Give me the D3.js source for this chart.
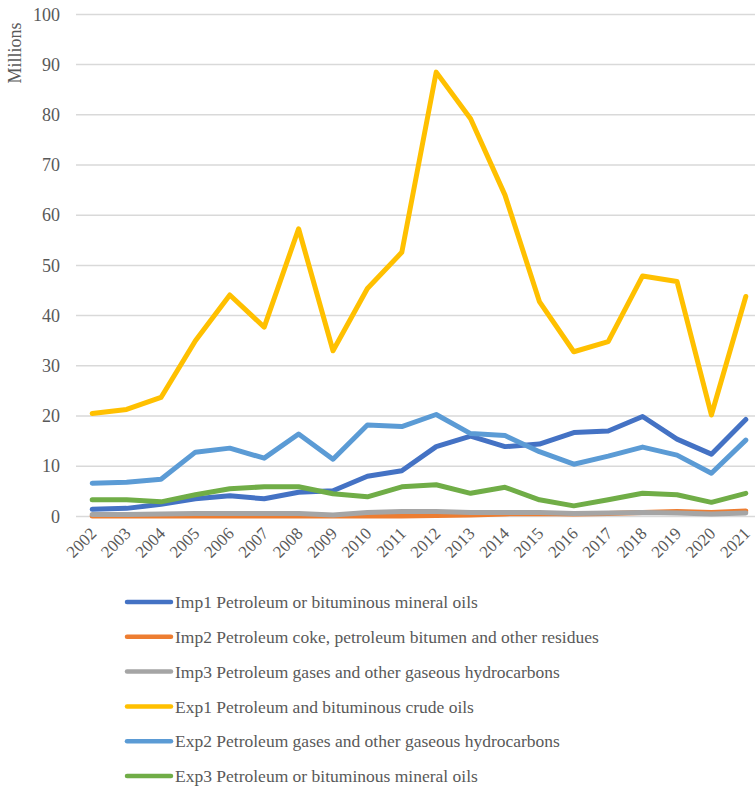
<!DOCTYPE html>
<html>
<head>
<meta charset="utf-8">
<script src="https://cdn.jsdelivr.net/npm/d3@7"></script>
<style>
  html, body { margin: 0; padding: 0; background: #ffffff; }
  svg { display: block; }
  text { font-family: "Liberation Serif", "Times New Roman", serif; fill: #595959; }
</style>
</head>
<body>
<svg id="chart" width="755" height="787"></svg>
<script>
// Years on the category axis
const years = ["2002","2003","2004","2005","2006","2007","2008","2009","2010","2011",
               "2012","2013","2014","2015","2016","2017","2018","2019","2020","2021"];

// Values in millions
const imp1 = [1.4,1.6,2.4,3.5,4.1,3.5,4.8,5.1,8.0,9.1,13.9,16.0,13.9,14.4,16.7,17.0,19.9,15.4,12.4,19.3];
const imp2 = [0.1,0.1,0.1,0.1,0.1,0.1,0.1,0.1,0.1,0.1,0.2,0.3,0.5,0.6,0.5,0.6,0.8,1.0,0.8,1.1];
const imp3 = [0.4,0.4,0.5,0.6,0.6,0.6,0.6,0.3,0.8,1.0,1.0,0.8,0.8,0.8,0.6,0.7,0.8,0.7,0.5,0.7];
const exp1 = [20.5,21.3,23.7,35.0,44.1,37.7,57.3,33.0,45.4,52.6,88.5,79.2,64.0,42.8,32.8,34.8,47.9,46.8,20.2,43.8];
const exp2 = [6.6,6.8,7.4,12.8,13.6,11.6,16.4,11.4,18.2,17.9,20.3,16.5,16.1,12.9,10.4,12.0,13.8,12.2,8.6,15.2];
const exp3 = [3.3,3.3,2.9,4.3,5.5,5.9,5.9,4.5,3.9,5.9,6.3,4.6,5.8,3.3,2.1,3.3,4.6,4.3,2.8,4.6];

const seriesNames = [
  "Imp1 Petroleum or bituminous mineral oils",
  "Imp2 Petroleum coke, petroleum bitumen and other residues",
  "Imp3 Petroleum gases and other gaseous hydrocarbons",
  "Exp1 Petroleum and bituminous crude oils",
  "Exp2 Petroleum gases and other gaseous hydrocarbons",
  "Exp3 Petroleum or bituminous mineral oils"
];
const seriesColors = ["#4472C4","#ED7D31","#A5A5A5","#FFC000","#5B9BD5","#70AD47"];
const yTicks = [0,10,20,30,40,50,60,70,80,90,100];
const yLabel = "Millions";

const series = [imp1, imp2, imp3, exp1, exp2, exp3].map((vals, i) => ({
  name: seriesNames[i],
  color: seriesColors[i],
  values: vals.map((v, j) => ({ year: years[j], value: v }))
}));

const svg = d3.select("#chart");

const x = d3.scaleBand().domain(years).range([75, 763]).padding(0);
const y = d3.scaleLinear().domain([0, 100]).range([516.4, 14.4]);
const cx = d => x(d) + x.bandwidth() / 2;

// Horizontal gridlines
svg.append("g")
  .selectAll("line")
  .data(yTicks)
  .join("line")
  .attr("x1", 76)
  .attr("x2", 763)
  .attr("y1", d => y(d))
  .attr("y2", d => y(d))
  .attr("stroke", "#d9d9d9")
  .attr("stroke-width", 1.5);

// Y axis labels
const yAxis = d3.axisLeft(y).tickValues(yTicks).tickSize(0).tickPadding(0);
const gy = svg.append("g").attr("transform", "translate(60,0)").call(yAxis);
gy.select(".domain").remove();
gy.selectAll("text")
  .style("font-size", "18px")
  .attr("dy", "0.32em");

// Axis title
svg.append("text")
  .attr("transform", "translate(21,53) rotate(-90)")
  .attr("text-anchor", "middle")
  .style("font-size", "18px")
  .text(yLabel);

// X axis labels, rotated
const xAxis = d3.axisBottom(x).tickSize(0).tickPadding(0);
const gx = svg.append("g").attr("transform", "translate(0,516.4)").call(xAxis);
gx.select(".domain").remove();
gx.selectAll("text")
  .style("font-size", "17px")
  .attr("text-anchor", "end")
  .attr("transform", "translate(1,14) rotate(-45)")
  .attr("dy", "0.35em")
  .attr("y", 0);

// Series lines
const line = d3.line()
  .x(d => cx(d.year))
  .y(d => y(d.value));

svg.append("g")
  .selectAll("path")
  .data(series)
  .join("path")
  .attr("d", d => line(d.values))
  .attr("fill", "none")
  .attr("stroke", d => d.color)
  .attr("stroke-width", 5)
  .attr("stroke-linejoin", "round")
  .attr("stroke-linecap", "round");

// Legend
const legend = svg.append("g")
  .selectAll("g")
  .data(series)
  .join("g")
  .attr("transform", (d, i) => `translate(0,${602 + i * 34.8})`);

legend.append("line")
  .attr("x1", 127).attr("x2", 171)
  .attr("y1", 0).attr("y2", 0)
  .attr("stroke", d => d.color)
  .attr("stroke-width", 4.5)
  .attr("stroke-linecap", "round");

legend.append("text")
  .attr("x", 175)
  .attr("y", 0)
  .attr("dy", "0.35em")
  .style("font-size", "17.5px")
  .text(d => d.name);
</script>
</body>
</html>
